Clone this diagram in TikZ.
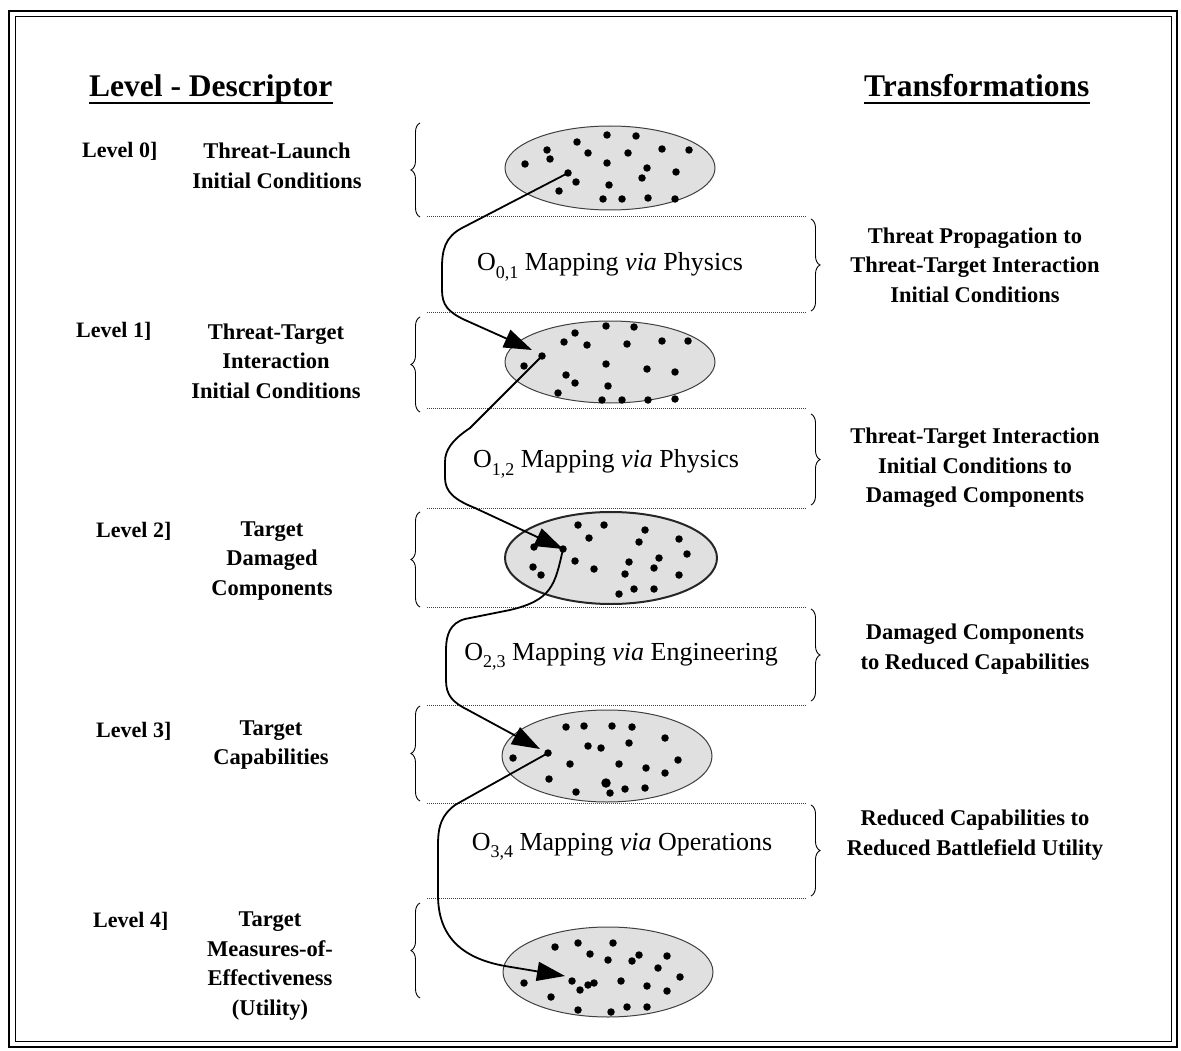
\documentclass[tikz,border=0pt]{standalone}
\usepackage{fontspec}
\setmainfont{Liberation Serif}
\usetikzlibrary{shapes.geometric,arrows.meta,decorations.pathreplacing}
\newcommand{\opsub}[1]{\raisebox{-0.28em}{\fontsize{18}{18}\selectfont #1}}
\tikzset{
  hdr/.style={font=\fontsize{31.5}{37}\selectfont\bfseries, inner sep=0pt, anchor=base west},
  lvl/.style={font=\fontsize{22}{29}\selectfont\bfseries, inner sep=0pt, anchor=west},
  desc/.style={font=\fontsize{22.5}{29.5}\selectfont\bfseries, align=center, inner sep=0pt},
  mid/.style={font=\fontsize{26}{30}\selectfont, inner sep=0pt},
  cloud/.style={ellipse, draw=black!75, line width=1pt, fill=black!12, inner sep=0pt},
  sep/.style={densely dotted, line width=1pt, draw=black!75},
  lbrace/.style={decorate, decoration={brace, amplitude=9pt}, line width=0.9pt},
  flow/.style={line width=1.8pt, -{Triangle[length=28pt,width=19pt]}},
  dot/.style={circle, fill=black, inner sep=0pt, minimum size=7.5pt},
}
\begin{document}
\begin{tikzpicture}[x=1pt,y=-1pt]
\useasboundingbox (0,0) rectangle (1181,1051);
% frame
\draw[line width=2.4pt] (9,11) rectangle (1177,1047);
\draw[line width=1pt] (15,17) rectangle (1171,1041);
% headers
\node[hdr] (h1) at (89,97) {Level - Descriptor};
\node[hdr] (h2) at (864,97) {Transformations};
\draw[line width=1.8pt] ([yshift=-6pt]h1.base west) -- ([yshift=-6pt]h1.base east);
\draw[line width=1.8pt] ([yshift=-6pt]h2.base west) -- ([yshift=-6pt]h2.base east);
% separators
\foreach \yy in {217,312,408,508,607,705,803,898}
  \draw[sep] (427,\yy) -- (806,\yy);
% left braces
\draw[lbrace] (420,217) -- (420,123);
\draw[lbrace] (420,412) -- (420,317);
\draw[lbrace] (420,607) -- (420,512);
\draw[lbrace] (420,801) -- (420,706);
\draw[lbrace] (420,998) -- (420,903);
% right braces
\draw[lbrace] (811,219) -- (811,311);
\draw[lbrace] (811,414) -- (811,505);
\draw[lbrace] (811,609) -- (811,701);
\draw[lbrace] (811,805) -- (811,896);
% level labels
\node[lvl] (l0) at (82,151) {Level 0]};
\node[lvl] (l1) at (76,331) {Level 1]};
\node[lvl] (l2) at (96,531) {Level 2]};
\node[lvl] (l3) at (96,731) {Level 3]};
\node[lvl] (l4) at (93,921) {Level 4]};
\node[desc] (d0) at (277,166) {Threat-Launch\\Initial Conditions};
\node[desc] (d1) at (276,361) {Threat-Target\\Interaction\\Initial Conditions};
\node[desc] (d2) at (272,561) {Target\\Damaged\\Components};
\node[desc] (d3) at (271,745) {Target\\Capabilities};
\node[desc] (d4) at (270,966) {Target\\Measures-of-\\Effectiveness\\(Utility)};
% transformation labels
\node[desc] (t0) at (975,265) {Threat Propagation to\\Threat-Target Interaction\\Initial Conditions};
\node[desc] (t1) at (975,468) {Threat-Target Interaction\\Initial Conditions to\\Damaged Components};
\node[desc] (t2) at (975,649) {Damaged Components\\to Reduced Capabilities};
\node[desc] (t3) at (975,835) {Reduced Capabilities to\\Reduced Battlefield Utility};
% mapping labels
\node[mid] (m0) at (610,267) {O\opsub{0,1} Mapping \textit{via} Physics};
\node[mid] (m1) at (606,464) {O\opsub{1,2} Mapping \textit{via} Physics};
\node[mid] (m2) at (621,657) {O\opsub{2,3} Mapping \textit{via} Engineering};
\node[mid] (m3) at (622,847) {O\opsub{3,4} Mapping \textit{via} Operations};
% ellipses
\node[cloud, minimum width=210pt, minimum height=84pt] (e0) at (610,168) {};
\node[cloud, minimum width=210pt, minimum height=82pt] (e1) at (610,362) {};
\node[cloud, minimum width=212pt, minimum height=92pt, line width=2pt, draw=black!85] (e2) at (611,558) {};
\node[cloud, minimum width=210pt, minimum height=92pt] (e3) at (607,756) {};
\node[cloud, minimum width=210pt, minimum height=90pt] (e4) at (608,972) {};
% dots
\foreach \p in {(607,135),(636,136),(577,142),(547,150),(588,153),(628,153),(662,149),(689,150),(550,159),(525,164),(607,163),(647,168),(676,172),(642,178),(576,182),(609,185),(559,191),(603,199),(622,199),(648,198),(675,199)}
  \node[dot] at \p {};
\node[dot] (s0) at (568,173) {};
\foreach \p in {(606,326),(634,327),(575,333),(564,342),(587,345),(627,344),(662,341),(688,341),(524,366),(606,364),(647,369),(675,372),(566,375),(575,383),(608,386),(558,393),(602,400),(622,400),(648,400),(675,399)}
  \node[dot] at \p {};
\node[dot] (s1) at (542,356) {};
\coordinate (a1) at (532,350);
\foreach \p in {(578,525),(604,525),(645,530),(589,538),(639,542),(679,539),(534,547),(687,554),(575,561),(659,558),(629,562),(533,567),(594,569),(654,568),(541,575),(625,574),(679,575),(619,594),(634,589),(654,589)}
  \node[dot] at \p {};
\node[dot] (s2) at (563,549) {};
\foreach \p in {(566,727),(584,726),(612,726),(632,727),(665,738),(588,746),(601,748),(629,743),(513,758),(570,764),(619,764),(646,768),(678,760),(665,773),(549,779),(625,789),(645,788),(576,792),(610,793)}
  \node[dot] at \p {};
\node[dot, minimum size=9.5pt] at (606,783) {};
\node[dot] (s3) at (548,753) {};
\coordinate (a3) at (540,749);
\foreach \p in {(555,947),(578,943),(613,943),(590,954),(608,960),(632,961),(639,955),(667,956),(658,968),(680,977),(524,983),(572,981),(588,985),(594,983),(580,990),(621,981),(647,986),(667,991),(551,997),(578,1010),(611,1012),(627,1007),(647,1007)}
  \node[dot] at \p {};
\coordinate (a4) at (565,976);
% flow arrows
\draw[flow] (s0.center) -- (462,228) .. controls (445,237) and (442,250) .. (442,268)
  -- (442,290) .. controls (442,305) and (448,312) .. (465,320) -- (a1);
\draw[flow] (s1.center) -- (470,428) .. controls (452,440) and (445,450) .. (445,462)
  -- (445,478) .. controls (445,492) and (455,500) .. (475,508) -- (s2.center);
\draw[flow] (s2.center) .. controls (555,585) and (552,600) .. (510,610)
  -- (465,619) .. controls (450,623) and (446,635) .. (446,650)
  -- (446,680) .. controls (446,695) and (452,702) .. (468,710) -- (a3);
\draw[flow] (s3.center) -- (455,805) .. controls (442,815) and (438,825) .. (438,845)
  -- (438,895) .. controls (438,935) and (460,958) .. (505,966) -- (a4);
\end{tikzpicture}
\end{document}
